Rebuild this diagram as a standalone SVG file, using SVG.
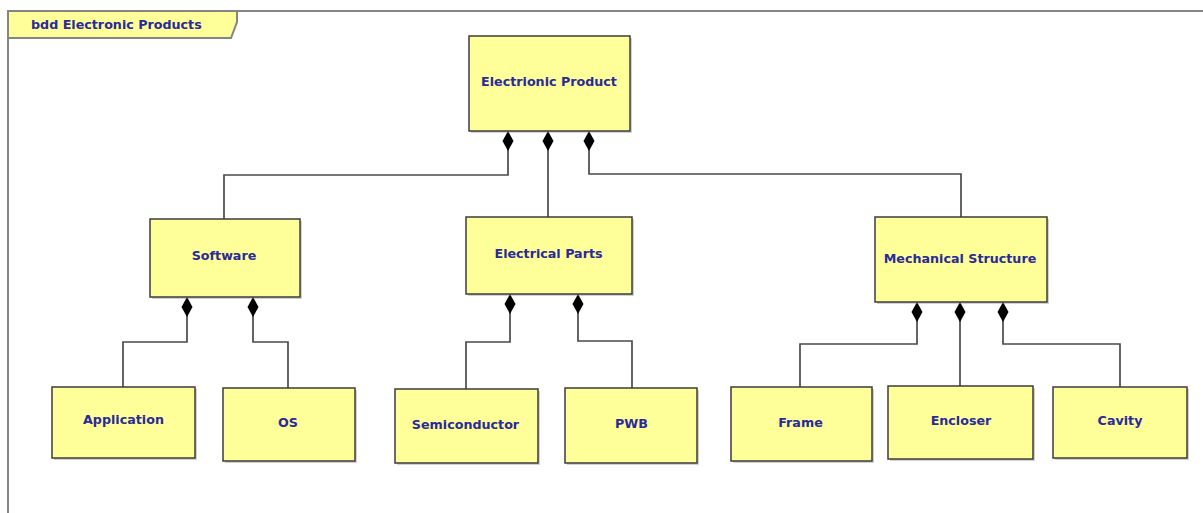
<svg xmlns="http://www.w3.org/2000/svg" width="1203" height="513" viewBox="0 0 1203 513">
<style>
.frame{fill:none;stroke:#858585;stroke-width:2}
.tab{fill:#ffff99;stroke:#858585;stroke-width:2}
.box{fill:#ffff99;stroke:#3c3c3c;stroke-width:1.5}
.shadow{fill:#9a9a9a;opacity:0.45}
.lbl{font-family:"DejaVu Sans",Verdana,sans-serif;font-weight:bold;font-size:12.7px;fill:#2a2a98;text-anchor:middle}
.title{font-family:"DejaVu Sans",Verdana,sans-serif;font-weight:bold;font-size:12.7px;fill:#2a2a98}
.conn{fill:none;stroke:#4a4a4a;stroke-width:1.7;marker-start:url(#diamond)}
</style>
<defs>
<marker id="diamond" markerUnits="userSpaceOnUse" markerWidth="22" markerHeight="12" viewBox="-1 -6 22 12" refX="0" refY="0" orient="auto">
<path d="M0,0 L10,-5.5 L20,0 L10,5.5 Z" fill="#000"/>
</marker>
</defs>
<rect width="1203" height="513" fill="#fff"/>
<g id="frame">
<path class="frame" d="M8,513 V11 H1203"/>
<path class="tab" d="M8,11 H237 V22 L231,38 H8 Z"/>
<text class="title" x="31" y="28.5">bdd Electronic Products</text>
</g>
<g id="connectors">
<path class="conn" d="M508,131 V175 H224 V219"/>
<path class="conn" d="M548,131 V217"/>
<path class="conn" d="M589,131 V174 H961 V217"/>
<path class="conn" d="M187,297 V342 H123 V387"/>
<path class="conn" d="M253,297 V342 H288 V388"/>
<path class="conn" d="M510,294 V342 H466 V389"/>
<path class="conn" d="M578,294 V341 H632 V388"/>
<path class="conn" d="M917,302 V344 H800 V387"/>
<path class="conn" d="M960,302 V386"/>
<path class="conn" d="M1003,302 V344 H1120 V387"/>
</g>
<g id="electronic-product">
<rect class="shadow" x="471" y="38" width="161" height="95"/>
<rect class="box" x="469" y="36" width="161" height="95"/>
<text class="lbl" x="549" y="86">Electrionic Product</text>
</g>
<g id="software">
<rect class="shadow" x="152" y="221" width="150" height="78"/>
<rect class="box" x="150" y="219" width="150" height="78"/>
<text class="lbl" x="224" y="259.5">Software</text>
</g>
<g id="electrical-parts">
<rect class="shadow" x="468" y="219" width="166" height="77"/>
<rect class="box" x="466" y="217" width="166" height="77"/>
<text class="lbl" x="548.5" y="258">Electrical Parts</text>
</g>
<g id="mechanical-structure">
<rect class="shadow" x="877" y="219" width="172" height="85"/>
<rect class="box" x="875" y="217" width="172" height="85"/>
<text class="lbl" x="960" y="263">Mechanical Structure</text>
</g>
<g id="application">
<rect class="shadow" x="54" y="389" width="143" height="71"/>
<rect class="box" x="52" y="387" width="143" height="71"/>
<text class="lbl" x="123.5" y="424">Application</text>
</g>
<g id="os">
<rect class="shadow" x="225" y="390" width="132" height="73"/>
<rect class="box" x="223" y="388" width="132" height="73"/>
<text class="lbl" x="288" y="427">OS</text>
</g>
<g id="semiconductor">
<rect class="shadow" x="397" y="391" width="143" height="74"/>
<rect class="box" x="395" y="389" width="143" height="74"/>
<text class="lbl" x="465.5" y="429">Semiconductor</text>
</g>
<g id="pwb">
<rect class="shadow" x="567" y="390" width="132" height="75"/>
<rect class="box" x="565" y="388" width="132" height="75"/>
<text class="lbl" x="631.5" y="428">PWB</text>
</g>
<g id="frame-node">
<rect class="shadow" x="733" y="389" width="141" height="74"/>
<rect class="box" x="731" y="387" width="141" height="74"/>
<text class="lbl" x="800.5" y="427">Frame</text>
</g>
<g id="encloser">
<rect class="shadow" x="890" y="388" width="145" height="73"/>
<rect class="box" x="888" y="386" width="145" height="73"/>
<text class="lbl" x="961" y="425">Encloser</text>
</g>
<g id="cavity">
<rect class="shadow" x="1055" y="389" width="134" height="71"/>
<rect class="box" x="1053" y="387" width="134" height="71"/>
<text class="lbl" x="1120" y="424.5">Cavity</text>
</g>
</svg>
